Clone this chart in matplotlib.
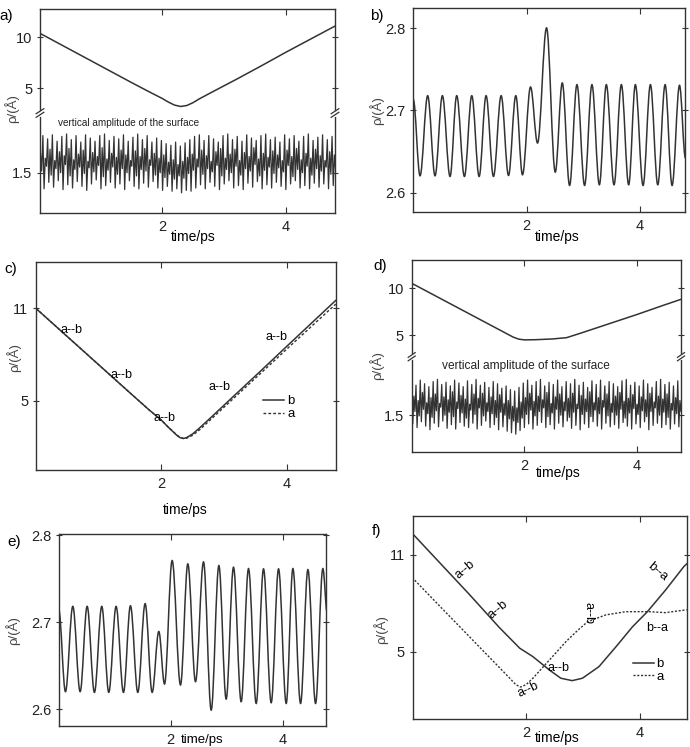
import numpy as np
import matplotlib
matplotlib.use("Agg")
import matplotlib.pyplot as plt
from matplotlib.path import Path
from matplotlib.patches import PathPatch

plt.rcParams['font.family'] = ['Liberation Sans', 'DejaVu Sans']

W, H = 690, 747
INK = '#333333'

# ---------------- data ----------------

# a) upper trace
t_a = [0.0, 0.5, 1.0, 1.5, 1.8, 2.0, 2.1, 2.2, 2.3, 2.4, 2.5, 2.6, 2.8, 3.2, 3.6, 4.0, 4.4, 4.8]
rho_a = [10.5, 8.86, 7.22, 5.58, 4.62, 4.0, 3.64, 3.34, 3.2, 3.3, 3.58, 3.95, 4.6, 5.88, 7.2, 8.55, 9.85, 11.15]

# a) surface amplitude: per beat high peak, deep trough, mid peak, mid trough
hp_a = [1.90, 1.96, 1.92, 1.97, 1.89, 1.95, 1.98, 1.91, 1.96, 1.88,
        1.97, 1.93, 1.89, 1.96, 1.98, 1.90, 1.95, 1.92, 1.97, 1.89,
        1.94, 1.98, 1.91, 1.96, 1.88, 1.93, 1.90, 1.86, 1.84, 1.88,
        1.83, 1.87, 1.91, 1.95, 1.97, 1.90, 1.96, 1.92, 1.88, 1.96,
        1.98, 1.91, 1.95, 1.89, 1.97, 1.93, 1.90, 1.96, 1.98, 1.91,
        1.94, 1.88, 1.97, 1.92, 1.96, 1.89, 1.95, 1.98, 1.90, 1.94,
        1.97, 1.91, 1.95]
dt_a = [1.36, 1.30, 1.38, 1.32, 1.40, 1.29, 1.35, 1.31, 1.39, 1.33,
        1.28, 1.36, 1.41, 1.30, 1.34, 1.38, 1.31, 1.36, 1.29, 1.40,
        1.33, 1.30, 1.37, 1.32, 1.39, 1.31, 1.28, 1.33, 1.27, 1.30,
        1.25, 1.28, 1.27, 1.31, 1.35, 1.30, 1.38, 1.33, 1.29, 1.36,
        1.40, 1.31, 1.34, 1.29, 1.37, 1.32, 1.39, 1.30, 1.35, 1.31,
        1.38, 1.33, 1.29, 1.36, 1.40, 1.31, 1.34, 1.30, 1.37, 1.32,
        1.36, 1.30, 1.34]
mp_a = [1.74, 1.68, 1.79, 1.65, 1.76, 1.71, 1.80, 1.66, 1.73, 1.78,
        1.64, 1.75, 1.70, 1.81, 1.67, 1.74, 1.69, 1.78, 1.72, 1.65,
        1.77, 1.70, 1.80, 1.66, 1.74, 1.68, 1.72, 1.63, 1.66, 1.60,
        1.64, 1.69, 1.73, 1.67, 1.78, 1.71, 1.64, 1.76, 1.80, 1.68,
        1.73, 1.79, 1.65, 1.75, 1.70, 1.81, 1.67, 1.74, 1.69, 1.77,
        1.72, 1.65, 1.78, 1.70, 1.80, 1.66, 1.74, 1.68, 1.79, 1.71,
        1.65, 1.76, 1.72]
mt_a = [1.52, 1.58, 1.47, 1.55, 1.50, 1.60, 1.46, 1.54, 1.57, 1.49,
        1.56, 1.51, 1.59, 1.45, 1.53, 1.57, 1.48, 1.55, 1.50, 1.58,
        1.46, 1.54, 1.52, 1.59, 1.47, 1.50, 1.44, 1.48, 1.42, 1.46,
        1.43, 1.49, 1.53, 1.57, 1.48, 1.55, 1.51, 1.59, 1.46, 1.54,
        1.50, 1.58, 1.47, 1.55, 1.52, 1.60, 1.46, 1.53, 1.57, 1.49,
        1.56, 1.51, 1.59, 1.45, 1.54, 1.50, 1.58, 1.47, 1.55, 1.52,
        1.57, 1.48, 1.54]

# b) extrema of the oscillation
t_b = [0.0, 0.119, 0.254, 0.384, 0.514, 0.649, 0.767, 0.903, 1.033, 1.163,
       1.286, 1.416, 1.552, 1.682, 1.811, 1.929, 2.071, 2.195, 2.354, 2.508,
       2.632, 2.761, 2.891, 3.026, 3.156, 3.287, 3.410, 3.546, 3.676, 3.805,
       3.923, 4.059, 4.189, 4.319, 4.449, 4.572, 4.703, 4.808]
rho_b = [2.713, 2.6205, 2.7178, 2.6205, 2.7178, 2.6197, 2.7178, 2.6197, 2.7178, 2.6197,
         2.7178, 2.6197, 2.7178, 2.6209, 2.7178, 2.6217, 2.7284, 2.6603, 2.8002, 2.625,
         2.7333, 2.6088, 2.7312, 2.6088, 2.7312, 2.6096, 2.7312, 2.6096, 2.7312, 2.6096,
         2.7312, 2.6088, 2.7312, 2.6096, 2.7312, 2.6088, 2.7304, 2.642]

# c) two trajectories
t_c = [0.0, 0.5, 1.0, 1.5, 1.8, 2.0, 2.1, 2.2, 2.25, 2.3, 2.35, 2.4, 2.5, 2.6, 2.8, 3.2, 3.6, 4.0, 4.4, 4.78]
rho_c_b = [11.0, 9.17, 7.34, 5.51, 4.42, 3.74, 3.32, 2.93, 2.74, 2.6, 2.55, 2.6, 2.85, 3.2, 3.95, 5.48, 7.0, 8.54, 10.07, 11.52]
rho_c_a = [11.0, 9.17, 7.34, 5.51, 4.42, 3.74, 3.33, 2.95, 2.77, 2.62, 2.55, 2.56, 2.76, 3.08, 3.83, 5.34, 6.85, 8.36, 9.86, 11.28]

# d) upper trace
t_d = [0.0, 0.5, 1.0, 1.5, 1.8, 1.9, 2.0, 2.2, 2.5, 2.75, 3.0, 3.5, 4.0, 4.5, 4.78]
rho_d = [10.54, 8.94, 7.34, 5.74, 4.78, 4.56, 4.48, 4.5, 4.58, 4.72, 5.2, 6.2, 7.2, 8.25, 8.82]

# d) surface amplitude
hp_d = [1.97, 1.91, 1.98, 1.93, 1.89, 1.96, 1.99, 1.92, 1.95, 1.90,
        1.98, 1.94, 1.89, 1.97, 1.92, 1.99, 1.91, 1.95, 1.88, 1.96,
        1.93, 1.87, 1.90, 1.85, 1.83, 1.88, 1.94, 1.98, 1.91, 1.96,
        1.99, 1.90, 1.95, 1.92, 1.98, 1.89, 1.96, 1.93, 1.99, 1.91,
        1.95, 1.88, 1.97, 1.92, 1.98, 1.90, 1.96, 1.93, 1.89, 1.97,
        1.99, 1.91, 1.95, 1.90, 1.98, 1.93, 1.88, 1.96, 1.99, 1.92,
        1.95, 1.90, 1.97]
dt_d = [1.38, 1.33, 1.41, 1.35, 1.30, 1.39, 1.34, 1.42, 1.32, 1.37,
        1.31, 1.40, 1.35, 1.33, 1.39, 1.31, 1.36, 1.42, 1.33, 1.37,
        1.30, 1.34, 1.28, 1.26, 1.24, 1.29, 1.33, 1.38, 1.31, 1.36,
        1.40, 1.33, 1.37, 1.31, 1.39, 1.34, 1.42, 1.32, 1.36, 1.30,
        1.38, 1.33, 1.41, 1.35, 1.31, 1.39, 1.34, 1.37, 1.32, 1.40,
        1.35, 1.31, 1.38, 1.33, 1.41, 1.30, 1.36, 1.39, 1.33, 1.37,
        1.31, 1.38, 1.34]
mp_d = [1.76, 1.70, 1.81, 1.67, 1.74, 1.79, 1.66, 1.75, 1.71, 1.82,
        1.68, 1.77, 1.72, 1.65, 1.79, 1.73, 1.80, 1.67, 1.75, 1.70,
        1.78, 1.66, 1.70, 1.62, 1.60, 1.68, 1.74, 1.80, 1.69, 1.76,
        1.71, 1.81, 1.66, 1.75, 1.79, 1.68, 1.73, 1.80, 1.65, 1.77,
        1.72, 1.82, 1.67, 1.74, 1.70, 1.79, 1.66, 1.76, 1.81, 1.69,
        1.73, 1.78, 1.65, 1.75, 1.71, 1.80, 1.68, 1.76, 1.72, 1.79,
        1.66, 1.74, 1.70]
mt_d = [1.55, 1.49, 1.58, 1.52, 1.47, 1.56, 1.61, 1.50, 1.54, 1.48,
        1.59, 1.53, 1.46, 1.57, 1.51, 1.60, 1.49, 1.55, 1.52, 1.47,
        1.54, 1.50, 1.45, 1.42, 1.40, 1.46, 1.51, 1.57, 1.49, 1.55,
        1.60, 1.48, 1.53, 1.58, 1.50, 1.56, 1.47, 1.54, 1.59, 1.51,
        1.55, 1.48, 1.57, 1.52, 1.61, 1.49, 1.54, 1.50, 1.58, 1.46,
        1.53, 1.59, 1.51, 1.56, 1.48, 1.55, 1.60, 1.50, 1.54, 1.47,
        1.57, 1.52, 1.55]

# e) extrema of the oscillation
t_e = [0.0, 0.120, 0.251, 0.382, 0.507, 0.637, 0.768, 0.893, 1.024, 1.155,
       1.280, 1.411, 1.542, 1.667, 1.786, 1.888, 2.024, 2.173, 2.304, 2.441,
       2.584, 2.721, 2.858, 2.988, 3.119, 3.256, 3.387, 3.524, 3.655, 3.792,
       3.923, 4.060, 4.179, 4.316, 4.447, 4.584, 4.714, 4.792]
rho_e = [2.7142, 2.62, 2.7181, 2.62, 2.7181, 2.6192, 2.7181, 2.6192, 2.7181, 2.6192,
         2.7188, 2.6192, 2.7212, 2.6192, 2.6892, 2.6288, 2.7708, 2.6277, 2.7669, 2.6315,
         2.7692, 2.5988, 2.765, 2.6115, 2.7631, 2.6085, 2.7615, 2.6065, 2.7612, 2.6073,
         2.7612, 2.6065, 2.7615, 2.6065, 2.7604, 2.6065, 2.7615, 2.7104]

# f) two trajectories
t_f_b = [0.0, 0.5, 1.0, 1.53, 1.89, 2.12, 2.41, 2.61, 2.81, 2.99, 3.28, 3.58, 3.87, 4.13, 4.45, 4.77, 4.82]
rho_f_b = [12.35, 10.46, 8.57, 6.5, 5.21, 4.69, 3.86, 3.35, 3.2, 3.35, 4.07, 5.31, 6.55, 7.48, 8.83, 10.28, 10.45]
t_f_a = [0.0, 0.5, 1.0, 1.5, 1.7, 1.82, 1.9, 2.0, 2.12, 2.41, 2.7, 2.9, 3.08, 3.4, 3.75, 4.16, 4.45, 4.82]
rho_f_a = [9.6, 7.77, 5.95, 4.13, 3.4, 2.95, 2.8, 2.95, 3.35, 4.48, 5.62, 6.3, 6.86, 7.28, 7.48, 7.48, 7.42, 7.6]

YLAB = 'ρ/(Å)'


def box(l, t, r, b):
    return [l / W, 1 - b / H, (r - l) / W, (b - t) / H]


def fx(x):
    return x / W


def fy(y):
    return 1 - y / H


def style(ax, xlabels=True):
    for s in ax.spines.values():
        s.set_color(INK)
        s.set_linewidth(1.0)
    ax.tick_params(axis='x', direction='in', top=True, bottom=True, length=4,
                   width=0.8, color=INK, labelsize=10.5, pad=5, labelcolor='#222222',
                   labelbottom=xlabels)
    ax.tick_params(axis='y', direction='inout', left=True, right=True, length=5,
                   width=0.8, color=INK, labelsize=10.5, pad=3, labelcolor='#222222')
    ax.set_xticks([2, 4])
    ax.set_xticklabels(['2', '4'])


def smooth(ax, t, v, k=0.36):
    # cubic Bezier through the extrema, flat tangents at every extremum
    verts = [(t[0], v[0])]
    codes = [Path.MOVETO]
    for i in range(1, len(t)):
        d = t[i] - t[i - 1]
        verts += [(t[i - 1] + k * d, v[i - 1]), (t[i] - k * d, v[i]), (t[i], v[i])]
        codes += [Path.CURVE4] * 3
    ax.add_patch(PathPatch(Path(verts, codes), fill=False, edgecolor=INK, lw=1.1))


def beats(hp, dt, mp, mt, t_end):
    vals = []
    for a, b, c, d in zip(hp, dt, mp, mt):
        vals += [a, b, c, d]
    return np.linspace(0, t_end, len(vals)), vals


def broken(top_box, bot_box, xlim, top_lim, bot_lim):
    ax1 = fig.add_axes(top_box)
    ax2 = fig.add_axes(bot_box)
    style(ax1, xlabels=False)
    style(ax2)
    ax1.spines['bottom'].set_visible(False)
    ax2.spines['top'].set_visible(False)
    ax1.tick_params(axis='x', bottom=False)
    ax2.tick_params(axis='x', top=False)
    for ax in (ax1, ax2):
        ax.set_xlim(*xlim)
    ax1.set_ylim(*top_lim)
    ax2.set_ylim(*bot_lim)
    ax1.set_yticks([5, 10])
    ax2.set_yticks([1.5])
    # break marks on both side spines
    for x0 in (0, 1):
        for dy in (-0.018, 0.018):
            ax2.plot([x0 - 0.013, x0 + 0.013], [1 + dy - 0.025, 1 + dy + 0.025],
                     transform=ax2.transAxes, color=INK, lw=0.9, clip_on=False, zorder=5)
        ax2.plot([x0, x0], [0.985, 1.015], transform=ax2.transAxes, color='white',
                 lw=2, clip_on=False, zorder=4)
    return ax1, ax2


fig = plt.figure(figsize=(W / 100, H / 100), dpi=100)

# ---- a)
ax_at, ax_ab = broken(box(40, 9, 335, 113), box(40, 113, 335, 213),
                      (0.03, 4.79), (2.56, 12.8), (1.0, 2.24))
ax_at.plot(t_a, rho_a, color=INK, lw=1.1)
tt, vv = beats(hp_a, dt_a, mp_a, mt_a, 4.8)
ax_ab.plot(tt, vv, color=INK, lw=0.9)
fig.text(fx(58), fy(123), 'vertical amplitude of the surface', fontsize=7.2,
         ha='left', va='center', color='#222222')
fig.text(fx(-1), fy(16), 'a)', fontsize=11, ha='left', va='center')
fig.text(fx(12), fy(109), YLAB, fontsize=9.5, rotation=90, ha='center', va='center', color='#444444')
fig.text(fx(193), fy(237), 'time/ps', fontsize=10, ha='center', va='center')

# ---- b)
ax_b = fig.add_axes(box(413.3, 8.3, 685, 212))
style(ax_b)
smooth(ax_b, t_b, rho_b)
ax_b.set_xlim(0, 4.8)
ax_b.set_ylim(2.5765, 2.824)
ax_b.set_yticks([2.6, 2.7, 2.8])
ax_b.set_yticklabels(['2.6', '2.7', '2.8'])
fig.text(fx(370), fy(16), 'b)', fontsize=11, ha='left', va='center')
fig.text(fx(377), fy(111), YLAB, fontsize=9.5, rotation=90, ha='center', va='center', color='#444444')
fig.text(fx(557), fy(237), 'time/ps', fontsize=10, ha='center', va='center')

# ---- c)
ax_c = fig.add_axes(box(36, 262.3, 335.7, 470))
style(ax_c)
ax_c.plot(t_c, rho_c_b, color=INK, lw=1.1, label='b')
ax_c.plot(t_c, rho_c_a, color=INK, lw=1.0, ls=(0, (2, 1.5)), label='a')
ax_c.set_xlim(0, 4.78)
ax_c.set_ylim(0.5, 14)
ax_c.set_yticks([5, 11])
for (lx, ly) in [(71.7, 330), (121.7, 375), (165, 418.3), (220, 387.3), (276, 336.7)]:
    fig.text(fx(lx), fy(ly), 'a--b', fontsize=9, ha='center', va='center')
ax_c.legend(frameon=False, loc='center', bbox_to_anchor=(0.81, 0.30), fontsize=9.5,
            handlelength=1.6, handletextpad=0.2, labelspacing=0.05, borderpad=0)
fig.text(fx(4), fy(269), 'c)', fontsize=11, ha='left', va='center')
fig.text(fx(14), fy(358), YLAB, fontsize=9.5, rotation=90, ha='center', va='center', color='#444444')
fig.text(fx(185), fy(510), 'time/ps', fontsize=10, ha='center', va='center')

# ---- d)
ax_dt, ax_db = broken(box(411.7, 260, 681, 356.7), box(411.7, 356.7, 681, 451.7),
                      (0, 4.78), (2.68, 13.03), (1.0, 2.3))
ax_dt.plot(t_d, rho_d, color=INK, lw=1.1)
tt, vv = beats(hp_d, dt_d, mp_d, mt_d, 4.78)
ax_db.plot(tt, vv, color=INK, lw=0.9)
fig.text(fx(442), fy(366), 'vertical amplitude of the surface', fontsize=8.6,
         ha='left', va='center', color='#222222')
fig.text(fx(373), fy(266), 'd)', fontsize=11, ha='left', va='center')
fig.text(fx(377), fy(366), YLAB, fontsize=9.5, rotation=90, ha='center', va='center', color='#444444')
fig.text(fx(558), fy(473), 'time/ps', fontsize=10, ha='center', va='center')

# ---- e)
ax_e = fig.add_axes(box(59.3, 534.3, 326, 726))
style(ax_e)
smooth(ax_e, t_e, rho_e)
ax_e.set_xlim(0.01, 4.77)
ax_e.set_ylim(2.5805, 2.801)
ax_e.set_yticks([2.6, 2.7, 2.8])
ax_e.set_yticklabels(['2.6', '2.7', '2.8'])
fig.text(fx(7), fy(542), 'e)', fontsize=11, ha='left', va='center')
fig.text(fx(13), fy(631), YLAB, fontsize=9.5, rotation=90, ha='center', va='center', color='#444444')
fig.text(fx(202), fy(740), 'time/ps', fontsize=9.5, ha='center', va='center')

# ---- f)
ax_f = fig.add_axes(box(412.7, 516, 686.7, 719.3))
style(ax_f)
ax_f.plot(t_f_b, rho_f_b, color=INK, lw=1.1, label='b')
ax_f.plot(t_f_a, rho_f_a, color=INK, lw=1.0, ls=(0, (1.5, 1.2)), label='a')
ax_f.set_xlim(0.01, 4.82)
ax_f.set_ylim(0.8, 13.42)
ax_f.set_yticks([5, 11])
for (lx, ly, rot, s) in [(465, 570, 40, 'a--b'), (498, 610, 40, 'a--b'),
                         (558, 668, 0, 'a--b'), (528, 690, 25, 'a--b'),
                         (588, 613, -90, 'a--b'), (658, 572, -40, 'b--a'),
                         (657, 628, 0, 'b--a')]:
    fig.text(fx(lx), fy(ly), s, fontsize=9, ha='center', va='center', rotation=rot,
             rotation_mode='anchor')
ax_f.legend(frameon=False, loc='center', bbox_to_anchor=(0.86, 0.24), fontsize=9.5,
            handlelength=1.6, handletextpad=0.2, labelspacing=0.05, borderpad=0)
fig.text(fx(372), fy(531), 'f)', fontsize=11, ha='left', va='center')
fig.text(fx(381), fy(630), YLAB, fontsize=9.5, rotation=90, ha='center', va='center', color='#444444')
fig.text(fx(557), fy(738), 'time/ps', fontsize=10, ha='center', va='center')

fig.savefig('out.png', dpi=100)
